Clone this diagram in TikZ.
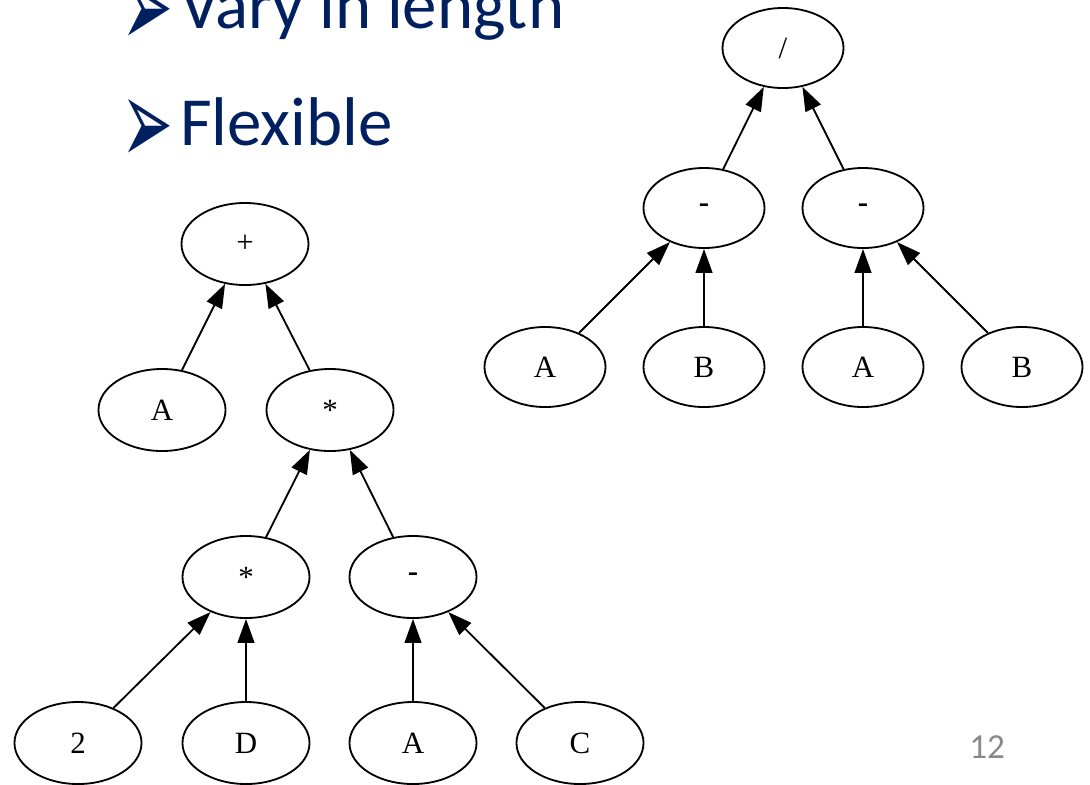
\documentclass[tikz,border=0pt]{standalone}
\usepackage{fontspec}
\setmainfont{Liberation Serif}
\newfontfamily\slidefont{Carlito}
\newfontfamily\dingfont{DejaVu Sans}
\usetikzlibrary{shapes.geometric, arrows.meta}
\definecolor{slideblue}{HTML}{002060}
\definecolor{pagegray}{HTML}{898989}
% arrowhead bullet, stretched to the size of the slide bullets
\newcommand{\arrowbullet}{\makebox[1.325cm][l]{\hspace{-4pt}\raisebox{-14pt}{\scalebox{1.1}[2.17]{\dingfont\fontsize{40}{40}\selectfont ➢}}}}

\begin{document}
\begin{tikzpicture}[x=0.025cm, y=-0.025cm,
		treenode/.style={draw, ellipse, line width=1.3pt, minimum width=3.175cm, minimum height=2.05cm, inner sep=0pt, font=\fontsize{22}{24}\selectfont},
		smallnode/.style={treenode, minimum width=3.025cm, minimum height=2.0cm},
		arrow/.style={-{Triangle[length=0.6cm, width=0.42cm]}, line width=1.3pt},
		bulletline/.style={anchor=base west, inner sep=0pt, text=slideblue, font=\slidefont\fontsize{49}{56}\selectfont}
		]
		\useasboundingbox (0,0) rectangle (1090,784);
		
		% Bullet points
		\node[bulletline] (vary) at (127,28) {\arrowbullet Vary in length};
		\node[bulletline] (flex) at (127,145) {\arrowbullet Flexible};
		
		% Tree for A + 2*D*(A-C)
		\node[treenode] (plus) at (245,244) {+};
		\node[treenode] (la) at (162,410) {A};
		\node[treenode] (mula) at (330,410) {*};
		\node[treenode] (mulb) at (246,577) {*};
		\node[treenode] (minl) at (413,577) {\textbf{-}};
		\node[treenode] (two) at (78,743) {2};
		\node[treenode] (dd) at (246,743) {D};
		\node[treenode] (lb) at (413,743) {A};
		\node[treenode] (cc) at (580,743) {C};
		
		\draw[arrow] (la) -- (plus);
		\draw[arrow] (mula) -- (plus);
		\draw[arrow] (mulb) -- (mula);
		\draw[arrow] (minl) -- (mula);
		\draw[arrow] (two) -- (mulb);
		\draw[arrow] (dd) -- (mulb);
		\draw[arrow] (lb) -- (minl);
		\draw[arrow] (cc) -- (minl);
		
		% Tree for (A-B)/(A-B)
		\node[smallnode] (div) at (783,48) {/};
		\node[smallnode] (mra) at (704,208) {\textbf{-}};
		\node[smallnode] (mrb) at (863,208) {\textbf{-}};
		\node[smallnode] (ra) at (545,367) {A};
		\node[smallnode] (rb) at (704,367) {B};
		\node[smallnode] (rc) at (863,367) {A};
		\node[smallnode] (rd) at (1022,367) {B};
		
		\draw[arrow] (mra) -- (div);
		\draw[arrow] (mrb) -- (div);
		\draw[arrow] (ra) -- (mra);
		\draw[arrow] (rb) -- (mra);
		\draw[arrow] (rc) -- (mrb);
		\draw[arrow] (rd) -- (mrb);
		
		% Slide number
		\node[anchor=base west, inner sep=0pt, text=pagegray, font=\slidefont\fontsize{25}{30}\selectfont] (pagenum) at (969,758) {12};
		
	\end{tikzpicture}
\end{document}
